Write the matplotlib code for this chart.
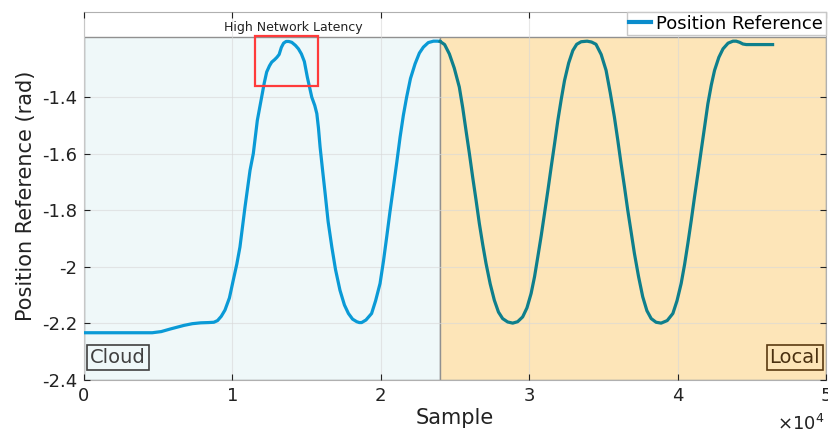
import matplotlib.pyplot as plt
from matplotlib.patches import Rectangle
from matplotlib.lines import Line2D

# samples are in units of 1e4
cloud_x = [0.0, 0.20, 0.46, 0.52, 0.58, 0.674, 0.73, 0.786, 0.84, 0.875, 0.90, 0.925,
           0.950, 0.980, 1.006, 1.030, 1.051, 1.085, 1.119, 1.141, 1.168, 1.197, 1.215,
           1.231, 1.250, 1.265, 1.285, 1.300, 1.315, 1.330, 1.345, 1.362, 1.380, 1.400,
           1.425, 1.445, 1.465, 1.485, 1.505, 1.535, 1.555, 1.569, 1.580, 1.591, 1.608,
           1.625, 1.645, 1.670, 1.695, 1.725, 1.755, 1.782, 1.810, 1.838, 1.855, 1.871,
           1.900, 1.938, 1.965, 1.995, 2.018, 2.040, 2.062, 2.085, 2.108, 2.130, 2.152,
           2.174, 2.200, 2.231, 2.260, 2.287, 2.320, 2.355, 2.380, 2.40]
cloud_y = [-2.233, -2.233, -2.233, -2.229, -2.220, -2.207, -2.201, -2.198, -2.197, -2.196,
           -2.190, -2.175, -2.153, -2.110, -2.047, -1.990, -1.930, -1.789, -1.659, -1.600,
           -1.483, -1.401, -1.350, -1.312, -1.290, -1.277, -1.268, -1.260, -1.250, -1.225,
           -1.210, -1.204, -1.204, -1.207, -1.218, -1.230, -1.248, -1.275, -1.330, -1.401,
           -1.430, -1.459, -1.510, -1.577, -1.660, -1.741, -1.840, -1.930, -2.010, -2.083,
           -2.135, -2.165, -2.185, -2.194, -2.197, -2.197, -2.188, -2.165, -2.120, -2.059,
           -1.980, -1.894, -1.805, -1.718, -1.630, -1.542, -1.465, -1.401, -1.335, -1.283,
           -1.245, -1.224, -1.208, -1.203, -1.203, -1.204]

local_x = [2.40, 2.43, 2.462, 2.495, 2.529, 2.552, 2.574, 2.597, 2.619, 2.642, 2.664,
           2.687, 2.709, 2.737, 2.765, 2.793, 2.821, 2.855, 2.889, 2.922, 2.956, 2.985,
           3.013, 3.036, 3.058, 3.081, 3.103, 3.126, 3.148, 3.171, 3.193, 3.216, 3.238,
           3.266, 3.294, 3.320, 3.350, 3.390, 3.420, 3.45, 3.485, 3.518, 3.546, 3.574,
           3.597, 3.619, 3.642, 3.664, 3.687, 3.709, 3.737, 3.765, 3.793, 3.822, 3.855,
           3.889, 3.930, 3.968, 3.996, 4.024, 4.047, 4.069, 4.092, 4.114, 4.137, 4.159,
           4.182, 4.204, 4.227, 4.249, 4.278, 4.306, 4.340, 4.373, 4.395, 4.418, 4.440,
           4.463, 4.64]
local_y = [-1.204, -1.215, -1.248, -1.298, -1.365, -1.438, -1.518, -1.600, -1.683, -1.765,
           -1.847, -1.922, -1.988, -2.060, -2.118, -2.160, -2.183, -2.195, -2.199, -2.194,
           -2.177, -2.145, -2.094, -2.035, -1.965, -1.890, -1.812, -1.730, -1.648, -1.565,
           -1.483, -1.408, -1.342, -1.280, -1.236, -1.214, -1.205, -1.203, -1.206, -1.214,
           -1.250, -1.306, -1.385, -1.471, -1.553, -1.636, -1.718, -1.800, -1.878, -1.953,
           -2.035, -2.106, -2.155, -2.183, -2.196, -2.199, -2.190, -2.165, -2.120, -2.059,
           -1.992, -1.918, -1.836, -1.753, -1.670, -1.589, -1.505, -1.424, -1.358, -1.306,
           -1.260, -1.230, -1.210, -1.203, -1.203, -1.207, -1.213, -1.215, -1.215]

x_ticks = [0, 1, 2, 3, 4, 5]
y_ticks = [-2.4, -2.2, -2.0, -1.8, -1.6, -1.4]
y_tick_labels = ['-2.4', '-2.2', '-2', '-1.8', '-1.6', '-1.4']
split = 2.4
patch_top = -1.19

fig = plt.figure(figsize=(8.29, 4.37), dpi=100)
ax = fig.add_axes([0.1013, 0.1304, 0.8951, 0.8421])

ax.add_patch(Rectangle((0, -2.4), split, patch_top + 2.4, facecolor='#eff8f9',
                       edgecolor='#909090', lw=1.0, zorder=0.5))
ax.add_patch(Rectangle((split, -2.4), 5 - split, patch_top + 2.4, facecolor='#fde5b8',
                       edgecolor='#909090', lw=1.0, zorder=0.5))

ax.plot(cloud_x, cloud_y, color='#0a9ad6', lw=2.3, zorder=3, solid_joinstyle='round')
ax.plot(local_x, local_y, color='#0e7f8c', lw=2.3, zorder=3, solid_joinstyle='round')

# latency box
ax.add_patch(Rectangle((1.152, -1.363), 0.425, 0.18, fill=False, edgecolor='#ff3b3b',
                       lw=1.6, zorder=4))
ax.text(1.41, -1.155, 'High Network Latency', ha='center', va='center', fontsize=9,
        color='#222222')

box = dict(boxstyle='square,pad=0.15', facecolor='none', edgecolor='#404040', lw=1.2)
ax.text(0.04, -2.32, 'Cloud', ha='left', va='center', fontsize=14, color='#404040',
        bbox=box)
box2 = dict(boxstyle='square,pad=0.15', facecolor='none', edgecolor='#5a3a10', lw=1.2)
ax.text(4.96, -2.32, 'Local', ha='right', va='center', fontsize=14, color='#4a3010',
        bbox=box2)

ax.set_xlim(0, 5)
ax.set_ylim(-2.4, -1.1)
ax.set_xticks(x_ticks)
ax.set_yticks(y_ticks)
ax.set_yticklabels(y_tick_labels)
ax.tick_params(direction='in', labelsize=13, colors='#222222', top=True, right=True,
               length=4, pad=5)
ax.grid(True, color='#d8d8d8', lw=0.8, alpha=0.6)
ax.set_axisbelow(False)
for s in ax.spines.values():
    s.set_color('#b0b0b0')
ax.set_xlabel('Sample', fontsize=15, color='#222222', labelpad=2)
ax.set_ylabel('Position Reference (rad)', fontsize=15, color='#222222', labelpad=4)
ax.text(0.998, -0.092, r'$\times10^4$', transform=ax.transAxes, ha='right', va='top',
        fontsize=13, color='#222222')

handle = Line2D([], [], color='#0a8ccc', lw=3)
ax.legend([handle], ['Position Reference'], loc='upper right', bbox_to_anchor=(1, 1),
          borderaxespad=0, fancybox=False, edgecolor='#c8c8c8', framealpha=1,
          fontsize=13, handlelength=1.2, handletextpad=0.3, borderpad=0.15)

fig.savefig('out.png', dpi=100)
